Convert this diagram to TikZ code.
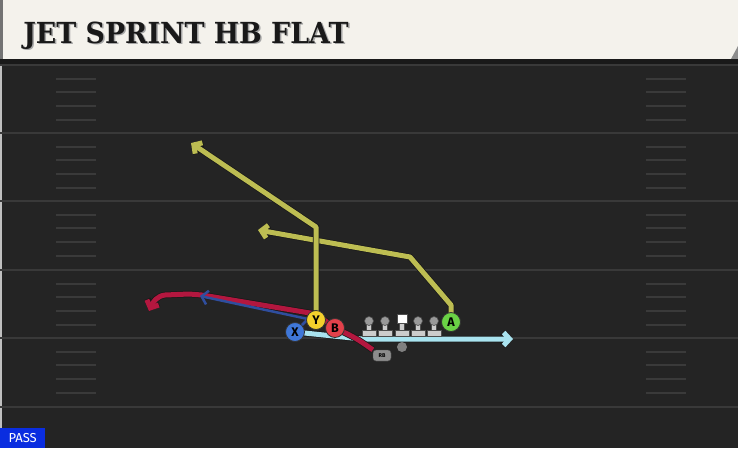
\documentclass[tikz,border=0pt]{standalone}
\usepackage{fontspec}
\usetikzlibrary{arrows.meta}
\newfontfamily\titlefont{DejaVu Serif}
\newfontfamily\labelfont{Fira Sans}

\definecolor{field}{HTML}{242424}
\definecolor{banner}{HTML}{F4F2EC}
\definecolor{yardline}{HTML}{393939}
\definecolor{hashline}{HTML}{3A3A3A}
\definecolor{routeyel}{HTML}{BDBD52}
\definecolor{routered}{HTML}{B3173F}
\definecolor{routecyan}{HTML}{A9E3EF}
\definecolor{routeblue}{HTML}{2F4E9E}
\definecolor{playX}{HTML}{3F77D8}
\definecolor{playY}{HTML}{F3D02C}
\definecolor{playB}{HTML}{E2414B}
\definecolor{playA}{HTML}{6AD245}
\definecolor{passblue}{HTML}{0A2DE0}

\pgfdeclarelayer{bg}
\pgfdeclarelayer{routes}
\pgfsetlayers{bg,routes,main}

\tikzset{
  route/.style={line width=5pt, line join=round, preaction={draw=black!90, line width=6.5pt}},
  tip/.style={-{Straight Barb[length=6pt,width=13pt]}},
  player/.style={circle, draw=black!80, line width=0.8pt, minimum size=19pt, inner sep=0pt,
    font=\labelfont\bfseries\fontsize{12.5}{12.5}\selectfont},
  lineman/.style={fill=black!20, draw=black!70, line width=0.6pt},
}

\begin{document}
\begin{tikzpicture}[x=1pt, y=-1pt]
      \useasboundingbox (0,0) rectangle (738,448);

      \begin{pgfonlayer}{bg}
      \fill[field] (0,0) rectangle (738,448);
      % banner
      \fill[banner] (0,0) rectangle (738,59);
      \fill[black!55] (0,0) rectangle (3,59);
      \fill[black!45] (731,59) -- (738,59) -- (738,46) -- cycle;
      \fill[black!90] (0,59) rectangle (738,64);
      \fill[black!25] (0,64) rectangle (2,448);
      % yard lines and hashes
      \foreach \l in {65,133,201,270,338,407}
        \draw[yardline, line width=2pt] (0,\l) -- (738,\l);
      \foreach \l in {65,133,201,270,338}
        \foreach \d in {14,27,41,55} {
          \draw[hashline, line width=1.5pt] (56,\l+\d) -- (96,\l+\d);
          \draw[hashline, line width=1.5pt] (646,\l+\d) -- (686,\l+\d);
        }
      \end{pgfonlayer}

      \node (shadow) [anchor=base west, xscale=0.925, text=black!35, font=\titlefont\bfseries\fontsize{29}{29}\selectfont]
        at (21.5,44.5) {JET SPRINT HB FLAT};
      \node (title) [anchor=base west, xscale=0.925, text=black!90, font=\titlefont\bfseries\fontsize{29}{29}\selectfont]
        at (20,43) {JET SPRINT HB FLAT};

      % players
      \node (X) [player, fill=playX] at (295,332) {X};
      \node (Y) [player, fill=playY] at (316,320) {Y};
      \node (B) [player, fill=playB] at (335,328) {B};
      \node (A) [player, fill=playA] at (451,322) {A};
      \node (RB) [fill=black!45, draw=black!70, rounded corners=3pt, minimum width=18pt, minimum height=11pt,
        inner sep=0pt, font=\labelfont\bfseries\fontsize{5.5}{5.5}\selectfont] at (382,355.5) {RB};
      \node (ball) [circle, fill=black!50, minimum size=10pt, inner sep=0pt] at (402,347) {};

      \coordinate (Ybreak) at (316,227);
      \coordinate (Yend) at (191,143);
      \coordinate (Astem) at (451,305);
      \coordinate (Abreak) at (410,257);
      \coordinate (Aend) at (258,230);
      \coordinate (Xbend) at (362,339);
      \coordinate (Xend) at (513,339);
      \coordinate (Bblue) at (200,296);
      \coordinate (Bkink) at (316,314);
      \coordinate (Bflat) at (189,294);
      \coordinate (Bend) at (149,311);

      % routes
      \begin{pgfonlayer}{routes}
      \draw[route, routeyel, tip] (A.center) -- (Astem) -- (Abreak) -- (Aend);
      \draw[route, routeyel, tip] (Y.center) -- (Ybreak) -- (Yend);
      \draw[route, routecyan, tip] (X.center) -- (Xbend) -- (Xend);
      \draw[route, routered, tip] (RB.north west) .. controls (356,338) .. (B.center) -- (Bkink) -- (202,295)
        -- (Bflat) -- (165,295) .. controls (157,296) and (153,302) .. (Bend);
      \draw[routeblue, line width=2.5pt, -{Straight Barb[length=6pt,width=14pt]}] (X.center) -- (308,319) -- (Bblue);
      \end{pgfonlayer}

      % line
      \foreach \x in {369,385,418,434} {
        \fill[lineman] (\x-7,330) rectangle (\x+7,336);
        \fill[lineman] (\x-2.5,323) rectangle (\x+2.5,330);
        \filldraw[fill=black!40, draw=black!70, line width=0.6pt] (\x,321) circle (4.5);
      }
      \fill[lineman] (395,330) rectangle (409,336);
      \fill[lineman] (399.5,322) rectangle (404.5,330);
      \filldraw[fill=white, draw=black!70, line width=0.6pt] (397,314) rectangle (407,323);

      % play type
      \node (pass) [fill=passblue, text=white, anchor=south west, minimum width=45pt, minimum height=20pt,
        inner sep=0pt, font=\labelfont\fontsize{13}{13}\selectfont] at (0,448) {PASS};

    \end{tikzpicture}
\end{document}
